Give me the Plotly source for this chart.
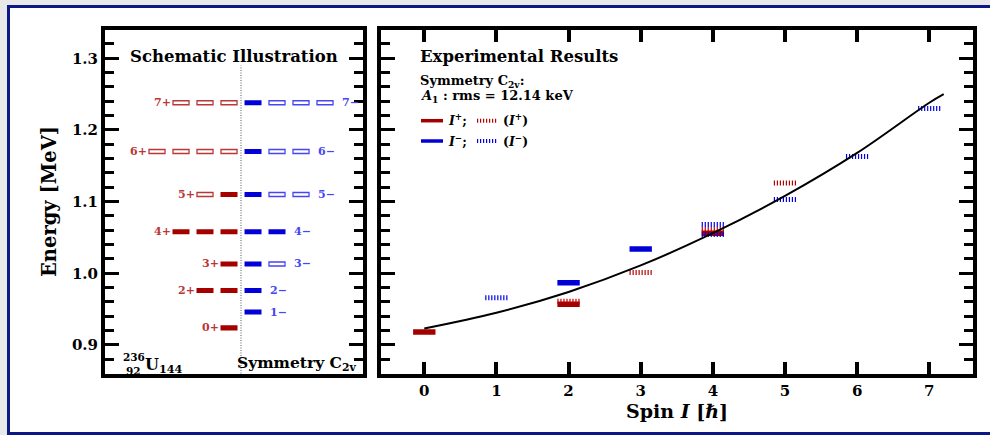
import plotly.graph_objects as go

W, H = 990, 435
def px(x):
    return x / W
def py(y):
    return 1 - y / H

FONT = "DejaVu Serif"
RED = "rgb(165,0,0)"
BLUE = "rgb(0,0,215)"
RED_L = "rgb(185,55,55)"
BLUE_L = "rgb(70,70,245)"

# ---------------- data: schematic illustration (left) ----------------
pos_labels = ["0+", "2+", "3+", "4+", "5+", "6+", "7+"]
pos_energy = [0.924, 0.976, 1.013, 1.058, 1.110, 1.170, 1.238]
pos_slots = ["F", "FF", "F", "FFF", "FH", "HHHH", "HHH"]   # from centre outward: F=filled, H=hollow

neg_labels = ["1\u2212", "2\u2212", "3\u2212", "4\u2212", "5\u2212", "6\u2212", "7\u2212"]
neg_energy = [0.946, 0.976, 1.013, 1.058, 1.110, 1.170, 1.238]
neg_slots = ["F", "F", "FH", "FF", "FHH", "FHH", "FHHH"]

# ---------------- data: experimental results (right) ----------------
exp_pos_spin = [0, 2, 4]
exp_pos_E = [0.918, 0.957, 1.056]
exp_pos_tent_spin = [2, 3, 4, 5]
exp_pos_tent_E = [0.961, 1.001, 1.061, 1.126]
exp_neg_spin = [2, 3]
exp_neg_E = [0.987, 1.034]
exp_neg_tent_spin = [1, 4, 4, 5, 6, 7]
exp_neg_tent_E = [0.966, 1.068, 1.054, 1.103, 1.163, 1.230]

fit_spin = [0, 1, 2, 3, 4, 5, 6, 7, 7.2]
fit_E = [0.923, 0.945, 0.974, 1.011, 1.056, 1.108, 1.168, 1.238, 1.250]

y_ticks = [0.9, 1.0, 1.1, 1.2, 1.3]
x_ticks = [0, 1, 2, 3, 4, 5, 6, 7]

# ---------------- geometry ----------------
E_TOP, E_BOT = 1.3402, 0.8602
SLOT_HALF = 0.354      # half width of schematic bar (slot units)
BAR_HALF = 0.155       # half width of experimental bar (spin units)

fig = go.Figure()
shapes = []
annotations = []

# schematic bars
def add_levels(labels, energies, slots, side):
    for lab, e, sl in zip(labels, energies, slots):
        for k, kind in enumerate(sl):
            c = side * (0.5 + k)
            col = RED if side < 0 else BLUE
            coll = RED_L if side < 0 else BLUE_L
            if kind == "F":
                shapes.append(dict(type="rect", xref="x", yref="y", ysizemode="pixel", yanchor=e,
                                   x0=c - SLOT_HALF, x1=c + SLOT_HALF, y0=-2.6, y1=2.6,
                                   fillcolor=col, line=dict(width=0), layer="above"))
            else:
                shapes.append(dict(type="rect", xref="x", yref="y", ysizemode="pixel", yanchor=e,
                                   x0=c - SLOT_HALF + 0.02, x1=c + SLOT_HALF - 0.02, y0=-2.0, y1=2.0,
                                   fillcolor="white", line=dict(width=1.3, color=coll), layer="above"))
        edge = side * (0.5 + len(sl) - 1) + side * SLOT_HALF
        annotations.append(dict(x=edge, y=e, xref="x", yref="y", text="<b>%s</b>" % lab,
                                showarrow=False, xanchor="right" if side < 0 else "left",
                                xshift=0 if side < 0 else 6, yanchor="middle",
                                font=dict(family=FONT, size=11, color=RED_L if side < 0 else BLUE_L)))

add_levels(pos_labels, pos_energy, pos_slots, -1)
add_levels(neg_labels, neg_energy, neg_slots, +1)

# dotted divider
shapes.append(dict(type="line", xref="x", yref="y domain", x0=0, x1=0, y0=0, y1=0.895,
                   line=dict(color="rgb(90,90,90)", width=1, dash="1px,1.5px"), layer="below"))

# experimental bars
def seg(spins, es):
    xs, ys = [], []
    for s, e in zip(spins, es):
        xs += [s - BAR_HALF, s + BAR_HALF, None]
        ys += [e, e, None]
    return xs, ys

fx, fy = seg(exp_pos_spin, exp_pos_E)
fig.add_trace(go.Scatter(x=fx, y=fy, xaxis="x2", yaxis="y2", mode="lines",
                         line=dict(color=RED, width=5.5), showlegend=False, hoverinfo="skip"))
fx, fy = seg(exp_neg_spin, exp_neg_E)
fig.add_trace(go.Scatter(x=fx, y=fy, xaxis="x2", yaxis="y2", mode="lines",
                         line=dict(color=BLUE, width=5.5), showlegend=False, hoverinfo="skip"))
fx, fy = seg(exp_pos_tent_spin, exp_pos_tent_E)
fig.add_trace(go.Scatter(x=fx, y=fy, xaxis="x2", yaxis="y2", mode="lines",
                         line=dict(color="rgb(185,0,0)", width=5, dash="1.2px,1.8px"),
                         showlegend=False, hoverinfo="skip"))
fx, fy = seg(exp_neg_tent_spin, exp_neg_tent_E)
fig.add_trace(go.Scatter(x=fx, y=fy, xaxis="x2", yaxis="y2", mode="lines",
                         line=dict(color="rgb(0,0,235)", width=5, dash="1.2px,1.8px"),
                         showlegend=False, hoverinfo="skip"))
fig.add_trace(go.Scatter(x=fit_spin, y=fit_E, xaxis="x2", yaxis="y2", mode="lines",
                         line=dict(color="black", width=2, shape="spline"),
                         showlegend=False, hoverinfo="skip"))

# outer frame
shapes.insert(0, dict(type="rect", xref="paper", yref="paper", x0=px(8.5), x1=px(1010),
                      y0=py(433.5), y1=py(6.5), fillcolor="white",
                      line=dict(color="rgb(12,24,135)", width=3), layer="below"))

# legend samples (right panel)
for yy, col, colt in [(120.7, RED, "rgb(185,0,0)"), (141, BLUE, "rgb(0,0,235)")]:
    shapes.append(dict(type="line", xref="paper", yref="paper", x0=px(421), x1=px(443),
                       y0=py(yy), y1=py(yy), line=dict(color=col, width=3.5), layer="above"))
    shapes.append(dict(type="line", xref="paper", yref="paper", x0=px(477), x1=px(497),
                       y0=py(yy), y1=py(yy), line=dict(color=colt, width=4, dash="1.2px,1.8px"),
                       layer="above"))

def txt(x, y, s, size, xanchor="left", yanchor="middle", color="black", angle=0):
    annotations.append(dict(x=px(x), y=py(y), xref="paper", yref="paper", text=s, showarrow=False,
                            xanchor=xanchor, yanchor=yanchor, textangle=angle,
                            font=dict(family=FONT, size=size, color=color)))

txt(234, 56, "<b>Schematic Illustration</b>", 16.5, xanchor="center")
txt(418, 56, "<b>Experimental Results</b>", 16.5)
txt(418, 81, "<b>Symmetry C<sub>2v</sub>:</b>", 13)
txt(418, 96, "<b><i>A</i><sub>1</sub> : rms = 12.14 keV</b>", 13)
txt(446, 120, "<b><i>I</i><sup>+</sup>;</b>", 12.5)
txt(501, 120, "<b>(<i>I</i><sup>+</sup>)</b>", 12.5)
txt(446, 141, "<b><i>I</i><sup>\u2212</sup>;</b>", 12.5)
txt(501, 141, "<b>(<i>I</i><sup>\u2212</sup>)</b>", 12.5)
txt(358, 363, "<b>Symmetry C<sub>2v</sub></b>", 15.5, xanchor="right")
txt(121, 357, "<b>236</b>", 10.5)
txt(124, 371, "<b>92</b>", 10.5)
txt(143, 365, "<b>U<sub>144</sub></b>", 16)
txt(50, 202, "<b>Energy [MeV]</b>", 19.5, xanchor="center", angle=-90)
txt(677, 411, "<b>Spin <i>I</i> [\u210f]</b>", 19, xanchor="center")

yax = dict(range=[E_BOT, E_TOP], domain=[py(373.5), py(29.5)], showgrid=False, zeroline=False,
           showline=True, linewidth=4, linecolor="black", mirror="allticks",
           tickmode="array", tickvals=y_ticks, ticktext=["%.1f" % v for v in y_ticks],
           ticks="inside", ticklen=14, tickwidth=3, tickcolor="black",
           minor=dict(dtick=0.02, tick0=0.9, ticks="inside", ticklen=9, tickwidth=3, tickcolor="black"),
           tickfont=dict(family=FONT, size=15, color="black", weight="bold"))

fig.update_layout(
    width=W, height=H, autosize=False,
    margin=dict(l=0, r=0, t=0, b=0),
    paper_bgcolor="rgb(232,232,232)", plot_bgcolor="white",
    showlegend=False,
    xaxis=dict(domain=[px(105), px(363)], range=[-5.667, 5.083], anchor="y",
               showgrid=False, zeroline=False, showticklabels=False, ticks="",
               showline=True, linewidth=4, linecolor="black", mirror=True),
    yaxis=dict(anchor="x", **yax),
    xaxis2=dict(domain=[px(381), px(972.7)], range=[-0.6, 7.602], anchor="y2",
                showgrid=False, zeroline=False, showline=True, linewidth=4, linecolor="black",
                mirror="allticks", tickmode="array", tickvals=x_ticks,
                ticktext=[str(v) for v in x_ticks],
                ticks="inside", ticklen=12, tickwidth=3.5, tickcolor="black",
                tickfont=dict(family=FONT, size=15, color="black", weight="bold")),
    yaxis2=dict(anchor="x2", showticklabels=False,
                **{k: v for k, v in yax.items() if k not in ("tickfont",)}),
    shapes=shapes,
    annotations=annotations,
)

fig.write_html("out.html")
